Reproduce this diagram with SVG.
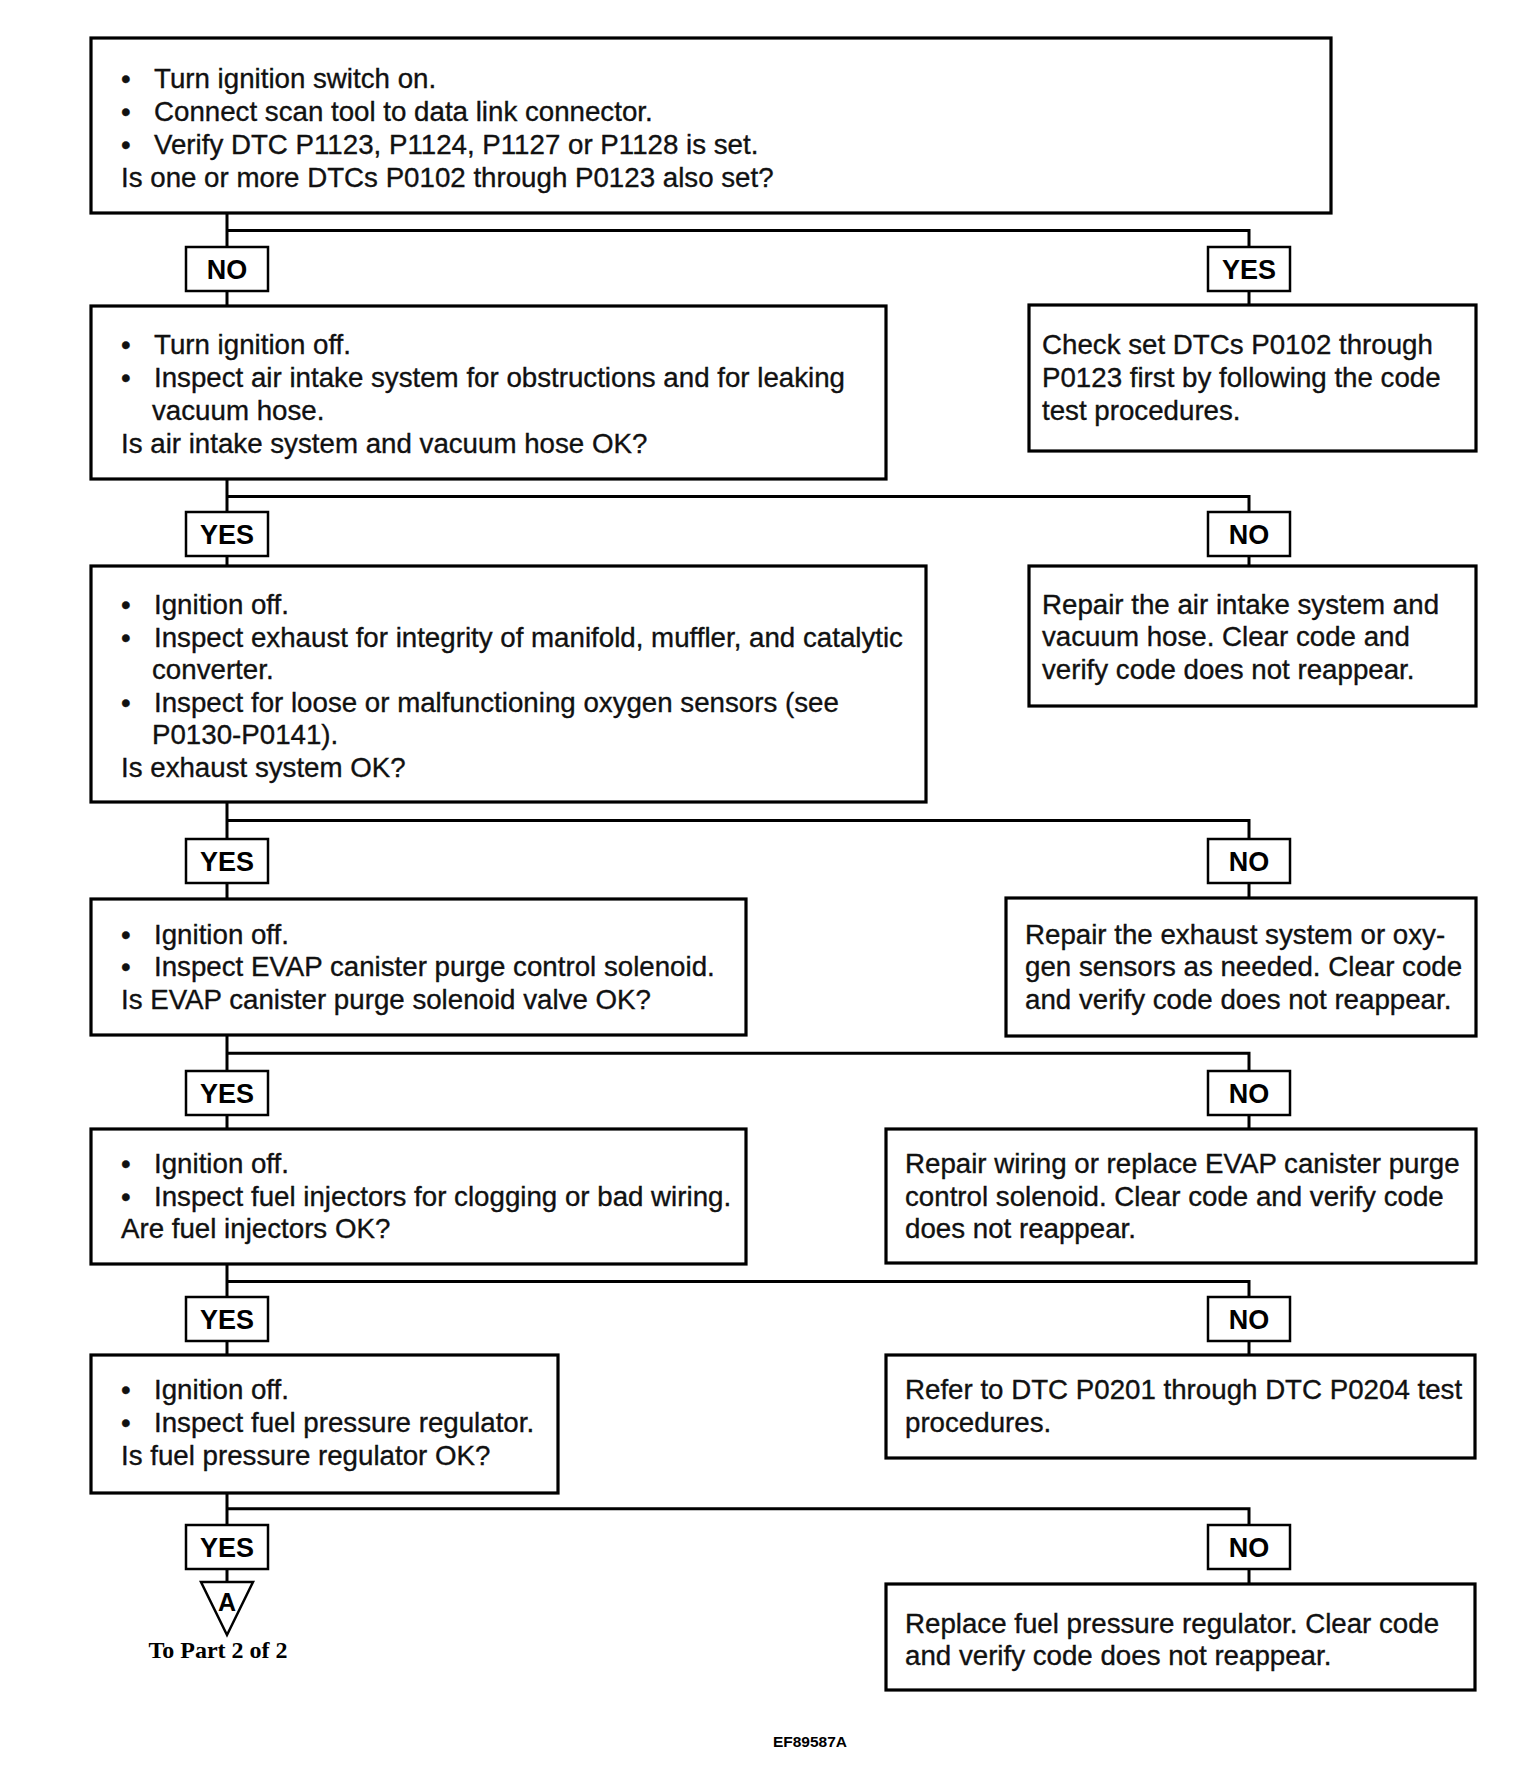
<svg xmlns="http://www.w3.org/2000/svg" width="1536" height="1790" viewBox="0 0 1536 1790">
<style>
.box{fill:#fff;stroke:#000;stroke-width:3.2}
.lab{fill:#fff;stroke:#000;stroke-width:2.5}
.t{font-family:"Liberation Sans",Arial,sans-serif;font-size:27.7px;fill:#111;stroke:#111;stroke-width:0.35}
.lt{font-family:"Liberation Sans",Arial,sans-serif;font-size:27px;font-weight:bold;fill:#000;text-anchor:middle}
.con{fill:none;stroke:#000;stroke-width:3}
</style>
<rect width="1536" height="1790" fill="#fff"/>
<g id="connectors" class="con">
<path d="M227 213V247M227 230.5H1249V247M227 291V306M1249 291V305"/>
<path d="M227 479V512M227 496.4H1249V512M227 556V566M1249 556V566"/>
<path d="M227 802V839M227 820.5H1249V839M227 883V899M1249 883V898"/>
<path d="M227 1035V1071M227 1053.3H1249V1071M227 1115V1129M1249 1115V1129"/>
<path d="M227 1264V1297M227 1281.6H1249V1297M227 1341V1355M1249 1341V1355"/>
<path d="M227 1493V1525M227 1508.7H1249V1525M227 1569V1582M1249 1569V1584"/>
</g>
<g id="n1">
<rect class="box" x="91" y="38" width="1240" height="175"/>
<text class="t" x="121" y="88">•</text><text class="t" x="154" y="88">Turn ignition switch on.</text>
<text class="t" x="121" y="121">•</text><text class="t" x="154" y="121">Connect scan tool to data link connector.</text>
<text class="t" x="121" y="154">•</text><text class="t" x="154" y="154">Verify DTC P1123, P1124, P1127 or P1128 is set.</text>
<text class="t" x="121" y="187">Is one or more DTCs P0102 through P0123 also set?</text>
</g>
<g id="l1no"><rect class="lab" x="186" y="247" width="82" height="44"/><text class="lt" x="227" y="279">NO</text></g>
<g id="l1yes"><rect class="lab" x="1208" y="247" width="82" height="44"/><text class="lt" x="1249" y="279">YES</text></g>
<g id="n2">
<rect class="box" x="91" y="306" width="795" height="173"/>
<text class="t" x="121" y="354">•</text><text class="t" x="154" y="354">Turn ignition off.</text>
<text class="t" x="121" y="387">•</text><text class="t" x="154" y="387">Inspect air intake system for obstructions and for leaking</text>
<text class="t" x="152" y="420">vacuum hose.</text>
<text class="t" x="121" y="453">Is air intake system and vacuum hose OK?</text>
</g>
<g id="r1">
<rect class="box" x="1029" y="305" width="447" height="146"/>
<text class="t" x="1042" y="354">Check set DTCs P0102 through</text>
<text class="t" x="1042" y="387">P0123 first by following the code</text>
<text class="t" x="1042" y="420">test procedures.</text>
</g>
<g id="l2yes"><rect class="lab" x="186" y="512" width="82" height="44"/><text class="lt" x="227" y="544">YES</text></g>
<g id="l2no"><rect class="lab" x="1208" y="512" width="82" height="44"/><text class="lt" x="1249" y="544">NO</text></g>
<g id="n3">
<rect class="box" x="91" y="566" width="835" height="236"/>
<text class="t" x="121" y="614">•</text><text class="t" x="154" y="614">Ignition off.</text>
<text class="t" x="121" y="647">•</text><text class="t" x="154" y="647">Inspect exhaust for integrity of manifold, muffler, and catalytic</text>
<text class="t" x="152" y="679">converter.</text>
<text class="t" x="121" y="712">•</text><text class="t" x="154" y="712">Inspect for loose or malfunctioning oxygen sensors (see</text>
<text class="t" x="152" y="744">P0130-P0141).</text>
<text class="t" x="121" y="777">Is exhaust system OK?</text>
</g>
<g id="r2">
<rect class="box" x="1029" y="566" width="447" height="140"/>
<text class="t" x="1042" y="614">Repair the air intake system and</text>
<text class="t" x="1042" y="646">vacuum hose. Clear code and</text>
<text class="t" x="1042" y="679">verify code does not reappear.</text>
</g>
<g id="l3yes"><rect class="lab" x="186" y="839" width="82" height="44"/><text class="lt" x="227" y="871">YES</text></g>
<g id="l3no"><rect class="lab" x="1208" y="839" width="82" height="44"/><text class="lt" x="1249" y="871">NO</text></g>
<g id="n4">
<rect class="box" x="91" y="899" width="655" height="136"/>
<text class="t" x="121" y="944">•</text><text class="t" x="154" y="944">Ignition off.</text>
<text class="t" x="121" y="976">•</text><text class="t" x="154" y="976">Inspect EVAP canister purge control solenoid.</text>
<text class="t" x="121" y="1009">Is EVAP canister purge solenoid valve OK?</text>
</g>
<g id="r3">
<rect class="box" x="1006" y="898" width="470" height="138"/>
<text class="t" x="1025" y="944">Repair the exhaust system or oxy-</text>
<text class="t" x="1025" y="976">gen sensors as needed. Clear code</text>
<text class="t" x="1025" y="1009">and verify code does not reappear.</text>
</g>
<g id="l4yes"><rect class="lab" x="186" y="1071" width="82" height="44"/><text class="lt" x="227" y="1103">YES</text></g>
<g id="l4no"><rect class="lab" x="1208" y="1071" width="82" height="44"/><text class="lt" x="1249" y="1103">NO</text></g>
<g id="n5">
<rect class="box" x="91" y="1129" width="655" height="135"/>
<text class="t" x="121" y="1173">•</text><text class="t" x="154" y="1173">Ignition off.</text>
<text class="t" x="121" y="1206">•</text><text class="t" x="154" y="1206">Inspect fuel injectors for clogging or bad wiring.</text>
<text class="t" x="121" y="1238">Are fuel injectors OK?</text>
</g>
<g id="r4">
<rect class="box" x="886" y="1129" width="590" height="134"/>
<text class="t" x="905" y="1173">Repair wiring or replace EVAP canister purge</text>
<text class="t" x="905" y="1206">control solenoid. Clear code and verify code</text>
<text class="t" x="905" y="1238">does not reappear.</text>
</g>
<g id="l5yes"><rect class="lab" x="186" y="1297" width="82" height="44"/><text class="lt" x="227" y="1329">YES</text></g>
<g id="l5no"><rect class="lab" x="1208" y="1297" width="82" height="44"/><text class="lt" x="1249" y="1329">NO</text></g>
<g id="n6">
<rect class="box" x="91" y="1355" width="467" height="138"/>
<text class="t" x="121" y="1399">•</text><text class="t" x="154" y="1399">Ignition off.</text>
<text class="t" x="121" y="1432">•</text><text class="t" x="154" y="1432">Inspect fuel pressure regulator.</text>
<text class="t" x="121" y="1465">Is fuel pressure regulator OK?</text>
</g>
<g id="r5">
<rect class="box" x="886" y="1355" width="589" height="103"/>
<text class="t" x="905" y="1399">Refer to DTC P0201 through DTC P0204 test</text>
<text class="t" x="905" y="1432">procedures.</text>
</g>
<g id="l6yes"><rect class="lab" x="186" y="1525" width="82" height="44"/><text class="lt" x="227" y="1557">YES</text></g>
<g id="l6no"><rect class="lab" x="1208" y="1525" width="82" height="44"/><text class="lt" x="1249" y="1557">NO</text></g>
<g id="offpage">
<path d="M201 1582H253L227 1635Z" fill="#fff" stroke="#000" stroke-width="2.5"/>
<text class="lt" x="227" y="1611" style="font-size:25px">A</text>
<text x="218" y="1658" text-anchor="middle" font-family="'Liberation Serif','Times New Roman',serif" font-weight="bold" font-size="24" fill="#000">To Part 2 of 2</text>
</g>
<g id="r6">
<rect class="box" x="886" y="1584" width="589" height="106"/>
<text class="t" x="905" y="1633">Replace fuel pressure regulator. Clear code</text>
<text class="t" x="905" y="1665">and verify code does not reappear.</text>
</g>
<text x="810" y="1747" text-anchor="middle" font-family="'Liberation Sans',Arial,sans-serif" font-weight="bold" font-size="15.5" fill="#000">EF89587A</text>
</svg>
